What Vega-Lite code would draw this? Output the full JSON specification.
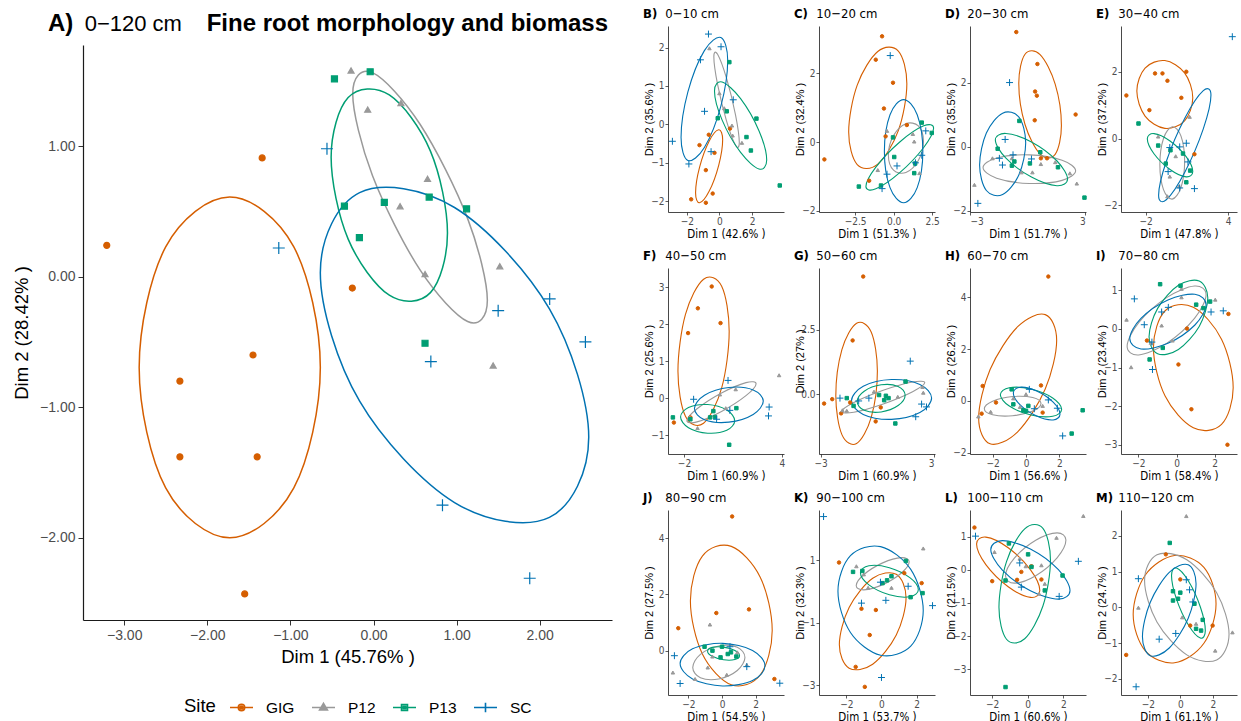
{
  "$schema": "https://vega.github.io/schema/vega-lite/v6.json",
  "padding": {"left": 12, "top": 8, "right": 2, "bottom": 2},
  "spacing": 31,
  "config": {
    "font": "Liberation Sans",
    "view": {"stroke": null},
    "range": {
      "category": ["#D55E00", "#999999", "#009E73", "#0072B2"],
      "symbol": ["circle", "triangle-up", "square", "M-2,0H2M0,-2V2"]
    },
    "axis": {
      "grid": false, "domainColor": "#1a1a1a", "tickColor": "#333333", "labelColor": "#4d4d4d",
      "titleColor": "#000000", "titleFontWeight": "normal",
      "labelFont": "'Liberation Sans Narrow', 'DejaVu Sans Condensed', sans-serif",
      "titleFont": "Liberation Sans", "labelFontSize": 10, "titleFontSize": 11,
      "tickSize": 3, "labelPadding": 1, "titlePadding": 2, "domainWidth": 0.8, "tickWidth": 0.8
    },
    "axisX": {"titleFont": "'Liberation Sans Narrow', 'DejaVu Sans Condensed', sans-serif", "titleFontSize": 11.5},
    "axisY": {"minExtent": 13, "maxExtent": 13, "titlePadding": 1},
    "title": {
      "anchor": "start", "frame": "bounds", "color": "#000000", "subtitleColor": "#000000",
      "font": "'Liberation Sans Narrow', 'DejaVu Sans Condensed', sans-serif",
      "subtitleFont": "'Liberation Sans Narrow', 'DejaVu Sans Condensed', sans-serif",
      "fontSize": 13, "fontWeight": "bold", "subtitleFontSize": 13, "subtitleFontWeight": "normal",
      "subtitlePadding": -13, "offset": 5
    }
  },
  "datasets": {
    "pts": [
      {"p":"A","s":"GIG","x":-3.21,"y":0.24},{"p":"A","s":"GIG","x":-1.34,"y":0.91},{"p":"A","s":"GIG","x":-0.255,"y":-0.087},{"p":"A","s":"GIG","x":-1.45,"y":-0.6},{"p":"A","s":"GIG","x":-2.33,"y":-0.8},{"p":"A","s":"GIG","x":-2.33,"y":-1.38},{"p":"A","s":"GIG","x":-1.4,"y":-1.38},{"p":"A","s":"GIG","x":-1.55,"y":-2.43},
      {"p":"A","s":"P12","x":-0.27,"y":1.58},{"p":"A","s":"P12","x":-0.07,"y":1.28},{"p":"A","s":"P12","x":0.33,"y":1.33},{"p":"A","s":"P12","x":0.65,"y":0.75},{"p":"A","s":"P12","x":0.32,"y":0.54},{"p":"A","s":"P12","x":0.62,"y":0.02},{"p":"A","s":"P12","x":1.52,"y":0.08},{"p":"A","s":"P12","x":1.44,"y":-0.68},
      {"p":"A","s":"P13","x":-0.47,"y":1.515},{"p":"A","s":"P13","x":-0.04,"y":1.57},{"p":"A","s":"P13","x":-0.35,"y":0.54},{"p":"A","s":"P13","x":0.13,"y":0.57},{"p":"A","s":"P13","x":0.67,"y":0.61},{"p":"A","s":"P13","x":1.12,"y":0.52},{"p":"A","s":"P13","x":-0.17,"y":0.3},{"p":"A","s":"P13","x":0.62,"y":-0.51},
      {"p":"A","s":"SC","x":-0.56,"y":0.98},{"p":"A","s":"SC","x":-1.14,"y":0.22},{"p":"A","s":"SC","x":2.12,"y":-0.17},{"p":"A","s":"SC","x":1.5,"y":-0.26},{"p":"A","s":"SC","x":2.55,"y":-0.5},{"p":"A","s":"SC","x":0.69,"y":-0.65},{"p":"A","s":"SC","x":0.83,"y":-1.75},{"p":"A","s":"SC","x":1.88,"y":-2.31},

      {"p":"B","s":"GIG","x":-1.73,"y":-1.95},{"p":"B","s":"GIG","x":-0.83,"y":-2.04},{"p":"B","s":"GIG","x":-0.41,"y":-1.8},{"p":"B","s":"GIG","x":-0.83,"y":-1.19},{"p":"B","s":"GIG","x":-0.3,"y":-0.74},{"p":"B","s":"GIG","x":-1.22,"y":-0.54},{"p":"B","s":"GIG","x":-0.65,"y":-0.27},{"p":"B","s":"GIG","x":0.65,"y":-0.11},
      {"p":"B","s":"P12","x":-0.61,"y":1.98},{"p":"B","s":"P12","x":0,"y":0.81},{"p":"B","s":"P12","x":0.3,"y":0.42},{"p":"B","s":"P12","x":0.77,"y":-0.03},{"p":"B","s":"P12","x":0.81,"y":-0.29},{"p":"B","s":"P12","x":1.38,"y":-0.48},
      {"p":"B","s":"P13","x":0.61,"y":1.62},{"p":"B","s":"P13","x":-0.1,"y":0.16},{"p":"B","s":"P13","x":0.45,"y":0.34},{"p":"B","s":"P13","x":2.27,"y":0.15},{"p":"B","s":"P13","x":1.66,"y":-0.33},{"p":"B","s":"P13","x":1.93,"y":-0.68},{"p":"B","s":"P13","x":3.7,"y":-1.59},
      {"p":"B","s":"SC","x":-0.67,"y":2.35},{"p":"B","s":"SC","x":-1.16,"y":1.68},{"p":"B","s":"SC","x":0.1,"y":2.02},{"p":"B","s":"SC","x":0.85,"y":0.64},{"p":"B","s":"SC","x":-0.91,"y":0.34},{"p":"B","s":"SC","x":-2.88,"y":-0.44},{"p":"B","s":"SC","x":-1.87,"y":-1.03},{"p":"B","s":"SC","x":-0.51,"y":-0.71},

      {"p":"C","s":"GIG","x":-4.5,"y":-0.5},{"p":"C","s":"GIG","x":-0.75,"y":3.08},{"p":"C","s":"GIG","x":-1.16,"y":2.4},{"p":"C","s":"GIG","x":-0.04,"y":1.73},{"p":"C","s":"GIG","x":-0.63,"y":0.98},{"p":"C","s":"GIG","x":-0.52,"y":0.17},{"p":"C","s":"GIG","x":0.86,"y":0.5},{"p":"C","s":"GIG","x":-1.59,"y":-1.12},
      {"p":"C","s":"P12","x":-0.43,"y":0.33},{"p":"C","s":"P12","x":-1.03,"y":-0.81},{"p":"C","s":"P12","x":1.25,"y":0.24},{"p":"C","s":"P12","x":1.34,"y":0.02},{"p":"C","s":"P12","x":1.68,"y":-0.9},
      {"p":"C","s":"P13","x":-2.26,"y":-1.29},{"p":"C","s":"P13","x":-0.82,"y":-1.26},{"p":"C","s":"P13","x":-0.04,"y":0.14},{"p":"C","s":"P13","x":0.04,"y":-0.43},{"p":"C","s":"P13","x":1.34,"y":-0.9},{"p":"C","s":"P13","x":1.83,"y":0.57},{"p":"C","s":"P13","x":2.48,"y":0.27},{"p":"C","s":"P13","x":1.4,"y":-0.62},
      {"p":"C","s":"SC","x":-0.22,"y":2.52},{"p":"C","s":"SC","x":-0.43,"y":-0.93},{"p":"C","s":"SC","x":-0.75,"y":-1.35},{"p":"C","s":"SC","x":0.22,"y":-0.69},{"p":"C","s":"SC","x":1.42,"y":-0.6},{"p":"C","s":"SC","x":2.09,"y":0.33},{"p":"C","s":"SC","x":1.83,"y":-0.38},

      {"p":"D","s":"GIG","x":-0.59,"y":3.59},{"p":"D","s":"GIG","x":0.51,"y":2.59},{"p":"D","s":"GIG","x":0.39,"y":1.73},{"p":"D","s":"GIG","x":0.48,"y":1.6},{"p":"D","s":"GIG","x":0.37,"y":0.83},{"p":"D","s":"GIG","x":2.5,"y":1.01},{"p":"D","s":"GIG","x":1.01,"y":-0.36},{"p":"D","s":"GIG","x":0.69,"y":-0.36},
      {"p":"D","s":"P12","x":-2.77,"y":-1.19},{"p":"D","s":"P12","x":-1.83,"y":-0.36},{"p":"D","s":"P12","x":-0.82,"y":-0.36},{"p":"D","s":"P12","x":-0.32,"y":-0.8},{"p":"D","s":"P12","x":0.25,"y":-0.8},{"p":"D","s":"P12","x":0.69,"y":-0.54},{"p":"D","s":"P12","x":1.44,"y":-0.48},{"p":"D","s":"P12","x":2.2,"y":-0.83},{"p":"D","s":"P12","x":2.56,"y":-1.15},
      {"p":"D","s":"P13","x":-1.56,"y":-0.06},{"p":"D","s":"P13","x":-0.43,"y":0.81},{"p":"D","s":"P13","x":-0.82,"y":-0.59},{"p":"D","s":"P13","x":-0.69,"y":-0.46},{"p":"D","s":"P13","x":0.12,"y":-0.52},{"p":"D","s":"P13","x":0.66,"y":-0.17},{"p":"D","s":"P13","x":1.58,"y":-0.64},{"p":"D","s":"P13","x":2.96,"y":-1.59},
      {"p":"D","s":"SC","x":-0.94,"y":2.01},{"p":"D","s":"SC","x":-2.59,"y":-1.77},{"p":"D","s":"SC","x":-1.17,"y":0.23},{"p":"D","s":"SC","x":-1.31,"y":-0.57},{"p":"D","s":"SC","x":-0.76,"y":-0.25},{"p":"D","s":"SC","x":-1.47,"y":-0.36},{"p":"D","s":"SC","x":0.2,"y":-0.38},

      {"p":"E","s":"GIG","x":-3.39,"y":1.29},{"p":"E","s":"GIG","x":-1.72,"y":0.85},{"p":"E","s":"GIG","x":-1.31,"y":1.95},{"p":"E","s":"GIG","x":-0.77,"y":1.95},{"p":"E","s":"GIG","x":-0.41,"y":1.73},{"p":"E","s":"GIG","x":0.96,"y":2.0},{"p":"E","s":"GIG","x":0.6,"y":1.22},{"p":"E","s":"GIG","x":1.55,"y":-0.47},
      {"p":"E","s":"P12","x":-1.08,"y":0.06},{"p":"E","s":"P12","x":0.19,"y":-0.53},{"p":"E","s":"P12","x":-0.24,"y":-1.14},{"p":"E","s":"P12","x":-0.41,"y":-1.73},{"p":"E","s":"P12","x":1.2,"y":0.65},{"p":"E","s":"P12","x":0.43,"y":-1.43},
      {"p":"E","s":"P13","x":-2.51,"y":0.45},{"p":"E","s":"P13","x":-1.08,"y":-0.21},{"p":"E","s":"P13","x":-0.19,"y":-0.35},{"p":"E","s":"P13","x":-0.53,"y":-0.75},{"p":"E","s":"P13","x":0.72,"y":-0.45},{"p":"E","s":"P13","x":1.24,"y":-0.96},{"p":"E","s":"P13","x":0.96,"y":-1.31},
      {"p":"E","s":"SC","x":4.3,"y":3.05},{"p":"E","s":"SC","x":1.55,"y":-1.5},{"p":"E","s":"SC","x":0.48,"y":-0.25},{"p":"E","s":"SC","x":0.96,"y":-0.14},{"p":"E","s":"SC","x":-0.24,"y":-0.27},{"p":"E","s":"SC","x":1.08,"y":-0.7},{"p":"E","s":"SC","x":-0.36,"y":-0.99},{"p":"E","s":"SC","x":0.48,"y":-1.48},

      {"p":"F","s":"GIG","x":-0.3,"y":3.02},{"p":"F","s":"GIG","x":-1.15,"y":2.43},{"p":"F","s":"GIG","x":0.24,"y":2.03},{"p":"F","s":"GIG","x":-1.75,"y":1.76},{"p":"F","s":"GIG","x":-2.62,"y":-0.66},{"p":"F","s":"GIG","x":-1.61,"y":-0.52},
      {"p":"F","s":"P12","x":3.83,"y":0.62},{"p":"F","s":"P12","x":1.17,"y":0.24},{"p":"F","s":"P12","x":0.2,"y":0.1},{"p":"F","s":"P12","x":-1.17,"y":-0.81},{"p":"F","s":"P12","x":0.56,"y":-0.27},{"p":"F","s":"P12","x":-1.65,"y":-0.52},
      {"p":"F","s":"P13","x":-2.68,"y":-0.52},{"p":"F","s":"P13","x":-1.61,"y":-0.57},{"p":"F","s":"P13","x":-0.2,"y":-0.35},{"p":"F","s":"P13","x":-0.4,"y":-0.52},{"p":"F","s":"P13","x":-0.1,"y":-0.51},{"p":"F","s":"P13","x":0.77,"y":-1.26},{"p":"F","s":"P13","x":1.21,"y":-0.27},
      {"p":"F","s":"SC","x":-1.41,"y":-0.03},{"p":"F","s":"SC","x":0.7,"y":0.48},{"p":"F","s":"SC","x":3.22,"y":-0.24},{"p":"F","s":"SC","x":3.18,"y":-0.48},{"p":"F","s":"SC","x":0,"y":-0.57},{"p":"F","s":"SC","x":0.81,"y":-0.33},

      {"p":"G","s":"GIG","x":-0.75,"y":4.55},{"p":"G","s":"GIG","x":-1.31,"y":2.08},{"p":"G","s":"GIG","x":-2.82,"y":-0.36},{"p":"G","s":"GIG","x":-2.39,"y":-0.19},{"p":"G","s":"GIG","x":-1.92,"y":-0.74},{"p":"G","s":"GIG","x":-1.44,"y":-0.32},{"p":"G","s":"GIG","x":-0.09,"y":-1.05},{"p":"G","s":"GIG","x":0.18,"y":-0.51},
      {"p":"G","s":"P12","x":-1.85,"y":-0.62},{"p":"G","s":"P12","x":-1.62,"y":-0.64},{"p":"G","s":"P12","x":-0.18,"y":0.1},{"p":"G","s":"P12","x":1.08,"y":-0.1},{"p":"G","s":"P12","x":2.43,"y":0.06},{"p":"G","s":"P12","x":2.39,"y":0.28},{"p":"G","s":"P12","x":1.53,"y":0.51},
      {"p":"G","s":"P13","x":-1.62,"y":-0.15},{"p":"G","s":"P13","x":-1.26,"y":-0.45},{"p":"G","s":"P13","x":0.09,"y":-0.03},{"p":"G","s":"P13","x":0.45,"y":-0.06},{"p":"G","s":"P13","x":0.59,"y":-0.15},{"p":"G","s":"P13","x":0.36,"y":-0.23},{"p":"G","s":"P13","x":1.49,"y":0.49},{"p":"G","s":"P13","x":0.95,"y":-1.13},
      {"p":"G","s":"SC","x":-1.98,"y":-0.15},{"p":"G","s":"SC","x":-0.99,"y":-0.26},{"p":"G","s":"SC","x":-0.45,"y":-0.15},{"p":"G","s":"SC","x":1.74,"y":1.28},{"p":"G","s":"SC","x":2.03,"y":-0.87},{"p":"G","s":"SC","x":2.34,"y":-0.38},{"p":"G","s":"SC","x":2.6,"y":-0.49},

      {"p":"H","s":"GIG","x":1.34,"y":4.81},{"p":"H","s":"GIG","x":-2.6,"y":0.58},{"p":"H","s":"GIG","x":-2.66,"y":-0.49},{"p":"H","s":"GIG","x":-1.8,"y":-0.06},{"p":"H","s":"GIG","x":0.9,"y":0.6},{"p":"H","s":"GIG","x":1.0,"y":-0.45},
      {"p":"H","s":"P12","x":-2.86,"y":-0.6},{"p":"H","s":"P12","x":-2.12,"y":-0.42},{"p":"H","s":"P12","x":-0.76,"y":0.1},{"p":"H","s":"P12","x":-0.36,"y":-0.23},{"p":"H","s":"P12","x":0,"y":0.26},{"p":"H","s":"P12","x":1.0,"y":-0.19},
      {"p":"H","s":"P13","x":-0.86,"y":0.45},{"p":"H","s":"P13","x":-0.76,"y":-0.13},{"p":"H","s":"P13","x":-0.16,"y":-0.36},{"p":"H","s":"P13","x":0,"y":-0.38},{"p":"H","s":"P13","x":0.14,"y":-0.19},{"p":"H","s":"P13","x":3.4,"y":-0.36},{"p":"H","s":"P13","x":2.74,"y":-1.26},
      {"p":"H","s":"SC","x":0.2,"y":0.45},{"p":"H","s":"SC","x":1.34,"y":0.04},{"p":"H","s":"SC","x":1.88,"y":-0.28},{"p":"H","s":"SC","x":2.2,"y":-1.35},{"p":"H","s":"SC","x":0.5,"y":-0.3},

      {"p":"I","s":"GIG","x":2.72,"y":0.39},{"p":"I","s":"GIG","x":-1.55,"y":-0.3},{"p":"I","s":"GIG","x":0.55,"y":0.01},{"p":"I","s":"GIG","x":0.1,"y":-0.92},{"p":"I","s":"GIG","x":0.78,"y":-2.08},{"p":"I","s":"GIG","x":2.67,"y":-3.0},
      {"p":"I","s":"P12","x":-2.62,"y":0.24},{"p":"I","s":"P12","x":-2.38,"y":-0.99},{"p":"I","s":"P12","x":-0.78,"y":0.09},{"p":"I","s":"P12","x":-0.21,"y":-0.3},{"p":"I","s":"P12","x":0.26,"y":1.04},{"p":"I","s":"P12","x":0.26,"y":0.82},{"p":"I","s":"P12","x":2.03,"y":0.76},{"p":"I","s":"P12","x":-1.34,"y":-0.36},
      {"p":"I","s":"P13","x":-0.86,"y":1.16},{"p":"I","s":"P13","x":0.21,"y":1.12},{"p":"I","s":"P13","x":1.03,"y":0.63},{"p":"I","s":"P13","x":1.76,"y":0.71},{"p":"I","s":"P13","x":1.41,"y":0.54},{"p":"I","s":"P13","x":-1.41,"y":-0.79},{"p":"I","s":"P13","x":-0.72,"y":-0.49},
      {"p":"I","s":"SC","x":-2.21,"y":0.78},{"p":"I","s":"SC","x":-1.69,"y":0.11},{"p":"I","s":"SC","x":-1.26,"y":-1.05},{"p":"I","s":"SC","x":-1.29,"y":-0.34},{"p":"I","s":"SC","x":-0.78,"y":0.44},{"p":"I","s":"SC","x":-0.43,"y":0.56},{"p":"I","s":"SC","x":1.81,"y":0.44},{"p":"I","s":"SC","x":2.45,"y":0.47},

      {"p":"J","s":"GIG","x":0.6,"y":4.78},{"p":"J","s":"GIG","x":-2.6,"y":0.8},{"p":"J","s":"GIG","x":-0.34,"y":1.34},{"p":"J","s":"GIG","x":1.6,"y":1.47},{"p":"J","s":"GIG","x":3.11,"y":-1.01},
      {"p":"J","s":"P12","x":-2.92,"y":-0.78},{"p":"J","s":"P12","x":-1.6,"y":-1.01},{"p":"J","s":"P12","x":-0.72,"y":0.93},{"p":"J","s":"P12","x":-0.85,"y":-0.6},{"p":"J","s":"P12","x":0.28,"y":-0.86},{"p":"J","s":"P12","x":0.91,"y":-0.06},{"p":"J","s":"P12","x":1.47,"y":-0.51},{"p":"J","s":"P12","x":-0.57,"y":-0.21},
      {"p":"J","s":"P13","x":-1.04,"y":0.14},{"p":"J","s":"P13","x":-0.57,"y":0},{"p":"J","s":"P13","x":0,"y":0.14},{"p":"J","s":"P13","x":-0.09,"y":-0.24},{"p":"J","s":"P13","x":0.34,"y":-0.12},{"p":"J","s":"P13","x":0.85,"y":-0.21},{"p":"J","s":"P13","x":0.53,"y":-0.06},
      {"p":"J","s":"SC","x":-2.83,"y":-0.18},{"p":"J","s":"SC","x":-2.49,"y":-1.17},{"p":"J","s":"SC","x":3.43,"y":-1.16},{"p":"J","s":"SC","x":1.47,"y":-0.57},{"p":"J","s":"SC","x":0.47,"y":0.14},

      {"p":"K","s":"GIG","x":-2.42,"y":0.93},{"p":"K","s":"GIG","x":-1.14,"y":-0.55},{"p":"K","s":"GIG","x":-0.32,"y":-0.59},{"p":"K","s":"GIG","x":-0.67,"y":-1.39},{"p":"K","s":"GIG","x":-1.47,"y":-2.41},{"p":"K","s":"GIG","x":-0.95,"y":-3.05},{"p":"K","s":"GIG","x":2.29,"y":0.27},{"p":"K","s":"GIG","x":1.3,"y":0.59},
      {"p":"K","s":"P12","x":-1.43,"y":0.81},{"p":"K","s":"P12","x":-1.01,"y":0.55},{"p":"K","s":"P12","x":-0.76,"y":0.12},{"p":"K","s":"P12","x":0.57,"y":0.12},{"p":"K","s":"P12","x":2.38,"y":1.38},
      {"p":"K","s":"P13","x":-1.62,"y":0.63},{"p":"K","s":"P13","x":-1.09,"y":0.66},{"p":"K","s":"P13","x":0.06,"y":0.27},{"p":"K","s":"P13","x":0.32,"y":0.36},{"p":"K","s":"P13","x":0.57,"y":0.49},{"p":"K","s":"P13","x":1.39,"y":0.98},{"p":"K","s":"P13","x":1.66,"y":-0.18},{"p":"K","s":"P13","x":2.34,"y":-0.05},
      {"p":"K","s":"SC","x":-3.3,"y":2.4},{"p":"K","s":"SC","x":-1.14,"y":-0.37},{"p":"K","s":"SC","x":-0.06,"y":0.3},{"p":"K","s":"SC","x":0.25,"y":-0.28},{"p":"K","s":"SC","x":1.52,"y":0.17},{"p":"K","s":"SC","x":2.91,"y":-0.45},{"p":"K","s":"SC","x":0,"y":-2.75},

      {"p":"L","s":"GIG","x":-3.0,"y":1.28},{"p":"L","s":"GIG","x":-2.0,"y":-0.34},{"p":"L","s":"GIG","x":-0.6,"y":-0.3},{"p":"L","s":"GIG","x":-0.36,"y":-0.06},{"p":"L","s":"GIG","x":0.77,"y":-0.29},{"p":"L","s":"GIG","x":0.21,"y":0.11},
      {"p":"L","s":"P12","x":3.13,"y":1.63},{"p":"L","s":"P12","x":1.62,"y":0.97},{"p":"L","s":"P12","x":-1.87,"y":0.54},{"p":"L","s":"P12","x":-0.45,"y":0.34},{"p":"L","s":"P12","x":-0.11,"y":0.11},{"p":"L","s":"P12","x":0.77,"y":0.14},{"p":"L","s":"P12","x":0.96,"y":-0.42},{"p":"L","s":"P12","x":0.64,"y":-0.72},
      {"p":"L","s":"P13","x":-1.06,"y":0.8},{"p":"L","s":"P13","x":0.02,"y":0.47},{"p":"L","s":"P13","x":0.21,"y":0.09},{"p":"L","s":"P13","x":-1.25,"y":-0.32},{"p":"L","s":"P13","x":0.96,"y":-0.62},{"p":"L","s":"P13","x":1.96,"y":-0.17},{"p":"L","s":"P13","x":-1.25,"y":-3.54},
      {"p":"L","s":"SC","x":-2.94,"y":1.02},{"p":"L","s":"SC","x":2.85,"y":0.26},{"p":"L","s":"SC","x":-0.45,"y":0.21},{"p":"L","s":"SC","x":-0.36,"y":-0.52},{"p":"L","s":"SC","x":1.77,"y":-0.8},

      {"p":"M","s":"GIG","x":-3.33,"y":-1.33},{"p":"M","s":"GIG","x":-0.89,"y":1.48},{"p":"M","s":"GIG","x":0,"y":0.78},{"p":"M","s":"GIG","x":0.61,"y":-0.51},{"p":"M","s":"GIG","x":1.99,"y":-0.51},
      {"p":"M","s":"P12","x":0.37,"y":2.55},{"p":"M","s":"P12","x":-2.58,"y":-0.01},{"p":"M","s":"P12","x":0.12,"y":-0.28},{"p":"M","s":"P12","x":0.97,"y":-0.46},{"p":"M","s":"P12","x":2.15,"y":-1.21},{"p":"M","s":"P12","x":3.21,"y":-0.7},
      {"p":"M","s":"P13","x":-0.65,"y":1.8},{"p":"M","s":"P13","x":-0.45,"y":0.45},{"p":"M","s":"P13","x":0,"y":0.41},{"p":"M","s":"P13","x":-0.45,"y":0.19},{"p":"M","s":"P13","x":-0.14,"y":0.24},{"p":"M","s":"P13","x":0.87,"y":0.1},{"p":"M","s":"P13","x":0.97,"y":-0.6},{"p":"M","s":"P13","x":1.28,"y":-0.65},{"p":"M","s":"P13","x":1.38,"y":-0.35},
      {"p":"M","s":"SC","x":-2.58,"y":0.8},{"p":"M","s":"SC","x":-2.72,"y":-2.22},{"p":"M","s":"SC","x":-1.3,"y":-0.89},{"p":"M","s":"SC","x":-0.28,"y":-0.73},{"p":"M","s":"SC","x":0.37,"y":0.77},{"p":"M","s":"SC","x":0.57,"y":0.49},{"p":"M","s":"SC","x":0.77,"y":0.15}
    ],
    "ell": [
      {"p":"A","s":"GIG","i":0,"x":-0.64,"y":-0.695},{"p":"A","s":"GIG","i":1,"x":-0.959,"y":0.228},{"p":"A","s":"GIG","i":2,"x":-1.73,"y":0.61},{"p":"A","s":"GIG","i":3,"x":-2.501,"y":0.228},{"p":"A","s":"GIG","i":4,"x":-2.82,"y":-0.695},{"p":"A","s":"GIG","i":5,"x":-2.501,"y":-1.618},{"p":"A","s":"GIG","i":6,"x":-1.73,"y":-2.0},{"p":"A","s":"GIG","i":7,"x":-0.959,"y":-1.618},
      {"p":"A","s":"P12","i":0,"x":1.37,"y":-0.18},{"p":"A","s":"P12","i":1,"x":1.133,"y":0.445},{"p":"A","s":"P12","i":2,"x":0.56,"y":1.168},{"p":"A","s":"P12","i":3,"x":-0.013,"y":1.563},{"p":"A","s":"P12","i":4,"x":-0.25,"y":1.4},{"p":"A","s":"P12","i":5,"x":-0.013,"y":0.775},{"p":"A","s":"P12","i":6,"x":0.56,"y":0.052},{"p":"A","s":"P12","i":7,"x":1.133,"y":-0.343},
      {"p":"A","s":"P13","i":0,"x":0.89,"y":0.335},{"p":"A","s":"P13","i":1,"x":0.685,"y":0.962},{"p":"A","s":"P13","i":2,"x":0.19,"y":1.392},{"p":"A","s":"P13","i":3,"x":-0.305,"y":1.372},{"p":"A","s":"P13","i":4,"x":-0.51,"y":0.915},{"p":"A","s":"P13","i":5,"x":-0.305,"y":0.288},{"p":"A","s":"P13","i":6,"x":0.19,"y":-0.142},{"p":"A","s":"P13","i":7,"x":0.685,"y":-0.122},
      {"p":"A","s":"SC","i":0,"x":2.59,"y":-1.23},{"p":"A","s":"SC","i":1,"x":2.117,"y":-0.246},{"p":"A","s":"SC","i":2,"x":0.975,"y":0.53},{"p":"A","s":"SC","i":3,"x":-0.167,"y":0.644},{"p":"A","s":"SC","i":4,"x":-0.64,"y":0.03},{"p":"A","s":"SC","i":5,"x":-0.167,"y":-0.954},{"p":"A","s":"SC","i":6,"x":0.975,"y":-1.73},{"p":"A","s":"SC","i":7,"x":2.117,"y":-1.844},

      {"p":"B","s":"GIG","i":0,"x":0.2,"y":-0.4},{"p":"B","s":"GIG","i":1,"x":-0.043,"y":-0.14},{"p":"B","s":"GIG","i":2,"x":-0.63,"y":-0.437},{"p":"B","s":"GIG","i":3,"x":-1.217,"y":-1.116},{"p":"B","s":"GIG","i":4,"x":-1.46,"y":-1.78},{"p":"B","s":"GIG","i":5,"x":-1.217,"y":-2.04},{"p":"B","s":"GIG","i":6,"x":-0.63,"y":-1.743},{"p":"B","s":"GIG","i":7,"x":-0.043,"y":-1.064},
      {"p":"B","s":"P12","i":0,"x":1.22,"y":-0.48},{"p":"B","s":"P12","i":1,"x":0.991,"y":0.24},{"p":"B","s":"P12","i":2,"x":0.44,"y":1.195},{"p":"B","s":"P12","i":3,"x":-0.111,"y":1.824},{"p":"B","s":"P12","i":4,"x":-0.34,"y":1.76},{"p":"B","s":"P12","i":5,"x":-0.111,"y":1.04},{"p":"B","s":"P12","i":6,"x":0.44,"y":0.085},{"p":"B","s":"P12","i":7,"x":0.991,"y":-0.544},
      {"p":"B","s":"P13","i":0,"x":2.9,"y":-0.93},{"p":"B","s":"P13","i":1,"x":2.431,"y":-0.171},{"p":"B","s":"P13","i":2,"x":1.3,"y":0.67},{"p":"B","s":"P13","i":3,"x":0.169,"y":1.101},{"p":"B","s":"P13","i":4,"x":-0.3,"y":0.87},{"p":"B","s":"P13","i":5,"x":0.169,"y":0.111},{"p":"B","s":"P13","i":6,"x":1.3,"y":-0.73},{"p":"B","s":"P13","i":7,"x":2.431,"y":-1.161},
      {"p":"B","s":"SC","i":0,"x":0.51,"y":1.66},{"p":"B","s":"SC","i":1,"x":0.091,"y":2.258},{"p":"B","s":"SC","i":2,"x":-0.92,"y":1.92},{"p":"B","s":"SC","i":3,"x":-1.931,"y":0.844},{"p":"B","s":"SC","i":4,"x":-2.35,"y":-0.34},{"p":"B","s":"SC","i":5,"x":-1.931,"y":-0.938},{"p":"B","s":"SC","i":6,"x":-0.92,"y":-0.6},{"p":"B","s":"SC","i":7,"x":0.091,"y":0.476},

      {"p":"C","s":"GIG","i":0,"x":0.86,"y":1.7},{"p":"C","s":"GIG","i":1,"x":0.306,"y":2.652},{"p":"C","s":"GIG","i":2,"x":-1.03,"y":2.637},{"p":"C","s":"GIG","i":3,"x":-2.366,"y":1.662},{"p":"C","s":"GIG","i":4,"x":-2.92,"y":0.3},{"p":"C","s":"GIG","i":5,"x":-2.366,"y":-0.652},{"p":"C","s":"GIG","i":6,"x":-1.03,"y":-0.637},{"p":"C","s":"GIG","i":7,"x":0.306,"y":0.338},
      {"p":"C","s":"P12","i":0,"x":1.94,"y":0.03},{"p":"C","s":"P12","i":1,"x":1.606,"y":0.473},{"p":"C","s":"P12","i":2,"x":0.8,"y":0.54},{"p":"C","s":"P12","i":3,"x":-0.006,"y":0.191},{"p":"C","s":"P12","i":4,"x":-0.34,"y":-0.37},{"p":"C","s":"P12","i":5,"x":-0.006,"y":-0.813},{"p":"C","s":"P12","i":6,"x":0.8,"y":-0.88},{"p":"C","s":"P12","i":7,"x":1.606,"y":-0.531},
      {"p":"C","s":"P13","i":0,"x":2.6,"y":0.41},{"p":"C","s":"P13","i":1,"x":1.955,"y":0.476},{"p":"C","s":"P13","i":2,"x":0.4,"y":0.006},{"p":"C","s":"P13","i":3,"x":-1.155,"y":-0.726},{"p":"C","s":"P13","i":4,"x":-1.8,"y":-1.29},{"p":"C","s":"P13","i":5,"x":-1.155,"y":-1.356},{"p":"C","s":"P13","i":6,"x":0.4,"y":-0.886},{"p":"C","s":"P13","i":7,"x":1.955,"y":-0.154},
      {"p":"C","s":"SC","i":0,"x":1.9,"y":-0.26},{"p":"C","s":"SC","i":1,"x":1.534,"y":0.8},{"p":"C","s":"SC","i":2,"x":0.65,"y":1.24},{"p":"C","s":"SC","i":3,"x":-0.234,"y":0.8},{"p":"C","s":"SC","i":4,"x":-0.6,"y":-0.26},{"p":"C","s":"SC","i":5,"x":-0.234,"y":-1.32},{"p":"C","s":"SC","i":6,"x":0.65,"y":-1.76},{"p":"C","s":"SC","i":7,"x":1.534,"y":-1.32},

      {"p":"D","s":"GIG","i":0,"x":1.76,"y":0.67},{"p":"D","s":"GIG","i":1,"x":1.435,"y":1.963},{"p":"D","s":"GIG","i":2,"x":0.65,"y":2.886},{"p":"D","s":"GIG","i":3,"x":-0.135,"y":2.897},{"p":"D","s":"GIG","i":4,"x":-0.46,"y":1.99},{"p":"D","s":"GIG","i":5,"x":-0.135,"y":0.697},{"p":"D","s":"GIG","i":6,"x":0.65,"y":-0.226},{"p":"D","s":"GIG","i":7,"x":1.435,"y":-0.237},
      {"p":"D","s":"P12","i":0,"x":2.5,"y":-0.75},{"p":"D","s":"P12","i":1,"x":1.794,"y":-0.419},{"p":"D","s":"P12","i":2,"x":0.09,"y":-0.253},{"p":"D","s":"P12","i":3,"x":-1.614,"y":-0.349},{"p":"D","s":"P12","i":4,"x":-2.32,"y":-0.65},{"p":"D","s":"P12","i":5,"x":-1.614,"y":-0.981},{"p":"D","s":"P12","i":6,"x":0.09,"y":-1.147},{"p":"D","s":"P12","i":7,"x":1.794,"y":-1.051},
      {"p":"D","s":"P13","i":0,"x":2.08,"y":-1.01},{"p":"D","s":"P13","i":1,"x":1.529,"y":-0.444},{"p":"D","s":"P13","i":2,"x":0.2,"y":0.148},{"p":"D","s":"P13","i":3,"x":-1.129,"y":0.418},{"p":"D","s":"P13","i":4,"x":-1.68,"y":0.21},{"p":"D","s":"P13","i":5,"x":-1.129,"y":-0.356},{"p":"D","s":"P13","i":6,"x":0.2,"y":-0.948},{"p":"D","s":"P13","i":7,"x":1.529,"y":-1.218},
      {"p":"D","s":"SC","i":0,"x":-0.1,"y":0.13},{"p":"D","s":"SC","i":1,"x":-0.452,"y":0.927},{"p":"D","s":"SC","i":2,"x":-1.3,"y":1.053},{"p":"D","s":"SC","i":3,"x":-2.148,"y":0.433},{"p":"D","s":"SC","i":4,"x":-2.5,"y":-0.57},{"p":"D","s":"SC","i":5,"x":-2.148,"y":-1.367},{"p":"D","s":"SC","i":6,"x":-1.3,"y":-1.493},{"p":"D","s":"SC","i":7,"x":-0.452,"y":-0.873},

      {"p":"E","s":"GIG","i":0,"x":1.43,"y":1.22},{"p":"E","s":"GIG","i":1,"x":0.835,"y":1.967},{"p":"E","s":"GIG","i":2,"x":-0.6,"y":2.335},{"p":"E","s":"GIG","i":3,"x":-2.035,"y":2.109},{"p":"E","s":"GIG","i":4,"x":-2.63,"y":1.42},{"p":"E","s":"GIG","i":5,"x":-2.035,"y":0.673},{"p":"E","s":"GIG","i":6,"x":-0.6,"y":0.305},{"p":"E","s":"GIG","i":7,"x":0.835,"y":0.531},
      {"p":"E","s":"P12","i":0,"x":0.84,"y":-0.68},{"p":"E","s":"P12","i":1,"x":0.576,"y":0.071},{"p":"E","s":"P12","i":2,"x":-0.06,"y":0.354},{"p":"E","s":"P12","i":3,"x":-0.696,"y":0.001},{"p":"E","s":"P12","i":4,"x":-0.96,"y":-0.78},{"p":"E","s":"P12","i":5,"x":-0.696,"y":-1.531},{"p":"E","s":"P12","i":6,"x":-0.06,"y":-1.814},{"p":"E","s":"P12","i":7,"x":0.576,"y":-1.461},
      {"p":"E","s":"P13","i":0,"x":1.43,"y":-0.99},{"p":"E","s":"P13","i":1,"x":0.947,"y":-0.544},{"p":"E","s":"P13","i":2,"x":-0.22,"y":-0.073},{"p":"E","s":"P13","i":3,"x":-1.387,"y":0.148},{"p":"E","s":"P13","i":4,"x":-1.87,"y":-0.01},{"p":"E","s":"P13","i":5,"x":-1.387,"y":-0.456},{"p":"E","s":"P13","i":6,"x":-0.22,"y":-0.927},{"p":"E","s":"P13","i":7,"x":0.947,"y":-1.148},
      {"p":"E","s":"SC","i":0,"x":2.75,"y":1.3},{"p":"E","s":"SC","i":1,"x":2.193,"y":1.434},{"p":"E","s":"SC","i":2,"x":0.85,"y":0.61},{"p":"E","s":"SC","i":3,"x":-0.493,"y":-0.688},{"p":"E","s":"SC","i":4,"x":-1.05,"y":-1.7},{"p":"E","s":"SC","i":5,"x":-0.493,"y":-1.834},{"p":"E","s":"SC","i":6,"x":0.85,"y":-1.01},{"p":"E","s":"SC","i":7,"x":2.193,"y":0.288},

      {"p":"F","s":"GIG","i":0,"x":0.77,"y":1.81},{"p":"F","s":"GIG","i":1,"x":0.31,"y":3.028},{"p":"F","s":"GIG","i":2,"x":-0.8,"y":3.217},{"p":"F","s":"GIG","i":3,"x":-1.91,"y":2.264},{"p":"F","s":"GIG","i":4,"x":-2.37,"y":0.73},{"p":"F","s":"GIG","i":5,"x":-1.91,"y":-0.488},{"p":"F","s":"GIG","i":6,"x":-0.8,"y":-0.677},{"p":"F","s":"GIG","i":7,"x":0.31,"y":0.276},
      {"p":"F","s":"P12","i":0,"x":2.42,"y":0.39},{"p":"F","s":"P12","i":1,"x":1.799,"y":0.421},{"p":"F","s":"P12","i":2,"x":0.3,"y":0.14},{"p":"F","s":"P12","i":3,"x":-1.199,"y":-0.287},{"p":"F","s":"P12","i":4,"x":-1.82,"y":-0.61},{"p":"F","s":"P12","i":5,"x":-1.199,"y":-0.641},{"p":"F","s":"P12","i":6,"x":0.3,"y":-0.36},{"p":"F","s":"P12","i":7,"x":1.799,"y":0.067},
      {"p":"F","s":"P13","i":0,"x":1.11,"y":-0.61},{"p":"F","s":"P13","i":1,"x":0.624,"y":-0.321},{"p":"F","s":"P13","i":2,"x":-0.55,"y":-0.173},{"p":"F","s":"P13","i":3,"x":-1.724,"y":-0.251},{"p":"F","s":"P13","i":4,"x":-2.21,"y":-0.51},{"p":"F","s":"P13","i":5,"x":-1.724,"y":-0.799},{"p":"F","s":"P13","i":6,"x":-0.55,"y":-0.947},{"p":"F","s":"P13","i":7,"x":0.624,"y":-0.869},
      {"p":"F","s":"SC","i":0,"x":2.86,"y":-0.08},{"p":"F","s":"SC","i":1,"x":2.242,"y":0.223},{"p":"F","s":"SC","i":2,"x":0.75,"y":0.289},{"p":"F","s":"SC","i":3,"x":-0.742,"y":0.081},{"p":"F","s":"SC","i":4,"x":-1.36,"y":-0.28},{"p":"F","s":"SC","i":5,"x":-0.742,"y":-0.583},{"p":"F","s":"SC","i":6,"x":0.75,"y":-0.649},{"p":"F","s":"SC","i":7,"x":2.242,"y":-0.441},

      {"p":"G","s":"GIG","i":0,"x":0.0,"y":0.9},{"p":"G","s":"GIG","i":1,"x":-0.322,"y":2.4},{"p":"G","s":"GIG","i":2,"x":-1.1,"y":2.741},{"p":"G","s":"GIG","i":3,"x":-1.878,"y":1.722},{"p":"G","s":"GIG","i":4,"x":-2.2,"y":-0.06},{"p":"G","s":"GIG","i":5,"x":-1.878,"y":-1.56},{"p":"G","s":"GIG","i":6,"x":-1.1,"y":-1.901},{"p":"G","s":"GIG","i":7,"x":-0.322,"y":-0.882},
      {"p":"G","s":"P12","i":0,"x":2.51,"y":0.45},{"p":"G","s":"P12","i":1,"x":1.865,"y":0.474},{"p":"G","s":"P12","i":2,"x":0.31,"y":0.156},{"p":"G","s":"P12","i":3,"x":-1.245,"y":-0.318},{"p":"G","s":"P12","i":4,"x":-1.89,"y":-0.67},{"p":"G","s":"P12","i":5,"x":-1.245,"y":-0.694},{"p":"G","s":"P12","i":6,"x":0.31,"y":-0.376},{"p":"G","s":"P12","i":7,"x":1.865,"y":0.098},
      {"p":"G","s":"P13","i":0,"x":1.47,"y":-0.03},{"p":"G","s":"P13","i":1,"x":1.098,"y":0.302},{"p":"G","s":"P13","i":2,"x":0.2,"y":0.364},{"p":"G","s":"P13","i":3,"x":-0.698,"y":0.118},{"p":"G","s":"P13","i":4,"x":-1.07,"y":-0.29},{"p":"G","s":"P13","i":5,"x":-0.698,"y":-0.622},{"p":"G","s":"P13","i":6,"x":0.2,"y":-0.684},{"p":"G","s":"P13","i":7,"x":1.098,"y":-0.438},
      {"p":"G","s":"SC","i":0,"x":2.87,"y":-0.15},{"p":"G","s":"SC","i":1,"x":2.249,"y":0.379},{"p":"G","s":"SC","i":2,"x":0.75,"y":0.57},{"p":"G","s":"SC","i":3,"x":-0.749,"y":0.309},{"p":"G","s":"SC","i":4,"x":-1.37,"y":-0.25},{"p":"G","s":"SC","i":5,"x":-0.749,"y":-0.779},{"p":"G","s":"SC","i":6,"x":0.75,"y":-0.97},{"p":"G","s":"SC","i":7,"x":2.249,"y":-0.709},

      {"p":"H","s":"GIG","i":0,"x":1.84,"y":2.34},{"p":"H","s":"GIG","i":1,"x":1.154,"y":3.337},{"p":"H","s":"GIG","i":2,"x":-0.5,"y":2.871},{"p":"H","s":"GIG","i":3,"x":-2.154,"y":1.215},{"p":"H","s":"GIG","i":4,"x":-2.84,"y":-0.66},{"p":"H","s":"GIG","i":5,"x":-2.154,"y":-1.657},{"p":"H","s":"GIG","i":6,"x":-0.5,"y":-1.191},{"p":"H","s":"GIG","i":7,"x":1.154,"y":0.465},
      {"p":"H","s":"P12","i":0,"x":0.9,"y":-0.1},{"p":"H","s":"P12","i":1,"x":0.402,"y":0.133},{"p":"H","s":"P12","i":2,"x":-0.8,"y":0.17},{"p":"H","s":"P12","i":3,"x":-2.002,"y":-0.009},{"p":"H","s":"P12","i":4,"x":-2.5,"y":-0.3},{"p":"H","s":"P12","i":5,"x":-2.002,"y":-0.533},{"p":"H","s":"P12","i":6,"x":-0.8,"y":-0.57},{"p":"H","s":"P12","i":7,"x":0.402,"y":-0.391},
      {"p":"H","s":"P13","i":0,"x":2.14,"y":-0.32},{"p":"H","s":"P13","i":1,"x":1.601,"y":0.117},{"p":"H","s":"P13","i":2,"x":0.3,"y":0.462},{"p":"H","s":"P13","i":3,"x":-1.001,"y":0.513},{"p":"H","s":"P13","i":4,"x":-1.54,"y":0.24},{"p":"H","s":"P13","i":5,"x":-1.001,"y":-0.197},{"p":"H","s":"P13","i":6,"x":0.3,"y":-0.542},{"p":"H","s":"P13","i":7,"x":1.601,"y":-0.593},
      {"p":"H","s":"SC","i":0,"x":2.04,"y":-0.51},{"p":"H","s":"SC","i":1,"x":1.63,"y":-0.047},{"p":"H","s":"SC","i":2,"x":0.64,"y":0.385},{"p":"H","s":"SC","i":3,"x":-0.35,"y":0.533},{"p":"H","s":"SC","i":4,"x":-0.76,"y":0.31},{"p":"H","s":"SC","i":5,"x":-0.35,"y":-0.153},{"p":"H","s":"SC","i":6,"x":0.64,"y":-0.585},{"p":"H","s":"SC","i":7,"x":1.63,"y":-0.733},

      {"p":"I","s":"GIG","i":0,"x":2.97,"y":-1.52},{"p":"I","s":"GIG","i":1,"x":2.358,"y":-0.264},{"p":"I","s":"GIG","i":2,"x":0.88,"y":0.561},{"p":"I","s":"GIG","i":3,"x":-0.598,"y":0.472},{"p":"I","s":"GIG","i":4,"x":-1.21,"y":-0.48},{"p":"I","s":"GIG","i":5,"x":-0.598,"y":-1.736},{"p":"I","s":"GIG","i":6,"x":0.88,"y":-2.561},{"p":"I","s":"GIG","i":7,"x":2.358,"y":-2.472},
      {"p":"I","s":"P12","i":0,"x":1.55,"y":0.89},{"p":"I","s":"P12","i":1,"x":0.943,"y":1.113},{"p":"I","s":"P12","i":2,"x":-0.52,"y":0.813},{"p":"I","s":"P12","i":3,"x":-1.983,"y":0.165},{"p":"I","s":"P12","i":4,"x":-2.59,"y":-0.45},{"p":"I","s":"P12","i":5,"x":-1.983,"y":-0.673},{"p":"I","s":"P12","i":6,"x":-0.52,"y":-0.373},{"p":"I","s":"P12","i":7,"x":0.943,"y":0.275},
      {"p":"I","s":"P13","i":0,"x":1.64,"y":0.8},{"p":"I","s":"P13","i":1,"x":1.189,"y":1.242},{"p":"I","s":"P13","i":2,"x":0.1,"y":1.131},{"p":"I","s":"P13","i":3,"x":-0.989,"y":0.534},{"p":"I","s":"P13","i":4,"x":-1.44,"y":-0.2},{"p":"I","s":"P13","i":5,"x":-0.989,"y":-0.642},{"p":"I","s":"P13","i":6,"x":0.1,"y":-0.531},{"p":"I","s":"P13","i":7,"x":1.189,"y":0.066},
      {"p":"I","s":"SC","i":0,"x":1.55,"y":0.63},{"p":"I","s":"SC","i":1,"x":0.964,"y":0.899},{"p":"I","s":"SC","i":2,"x":-0.45,"y":0.753},{"p":"I","s":"SC","i":3,"x":-1.864,"y":0.277},{"p":"I","s":"SC","i":4,"x":-2.45,"y":-0.25},{"p":"I","s":"SC","i":5,"x":-1.864,"y":-0.519},{"p":"I","s":"SC","i":6,"x":-0.45,"y":-0.373},{"p":"I","s":"SC","i":7,"x":0.964,"y":0.103},

      {"p":"J","s":"GIG","i":0,"x":2.98,"y":0.72},{"p":"J","s":"GIG","i":1,"x":2.268,"y":2.617},{"p":"J","s":"GIG","i":2,"x":0.55,"y":3.714},{"p":"J","s":"GIG","i":3,"x":-1.168,"y":3.367},{"p":"J","s":"GIG","i":4,"x":-1.88,"y":1.78},{"p":"J","s":"GIG","i":5,"x":-1.168,"y":-0.117},{"p":"J","s":"GIG","i":6,"x":0.55,"y":-1.214},{"p":"J","s":"GIG","i":7,"x":2.268,"y":-0.867},
      {"p":"J","s":"P12","i":0,"x":1.36,"y":-0.24},{"p":"J","s":"P12","i":1,"x":0.906,"y":0.123},{"p":"J","s":"P12","i":2,"x":-0.19,"y":0.168},{"p":"J","s":"P12","i":3,"x":-1.286,"y":-0.131},{"p":"J","s":"P12","i":4,"x":-1.74,"y":-0.6},{"p":"J","s":"P12","i":5,"x":-1.286,"y":-0.963},{"p":"J","s":"P12","i":6,"x":-0.19,"y":-1.008},{"p":"J","s":"P12","i":7,"x":0.906,"y":-0.709},
      {"p":"J","s":"P13","i":0,"x":1.04,"y":-0.18},{"p":"J","s":"P13","i":1,"x":0.762,"y":0.003},{"p":"J","s":"P13","i":2,"x":0.09,"y":0.126},{"p":"J","s":"P13","i":3,"x":-0.582,"y":0.117},{"p":"J","s":"P13","i":4,"x":-0.86,"y":-0.02},{"p":"J","s":"P13","i":5,"x":-0.582,"y":-0.203},{"p":"J","s":"P13","i":6,"x":0.09,"y":-0.326},{"p":"J","s":"P13","i":7,"x":0.762,"y":-0.317},
      {"p":"J","s":"SC","i":0,"x":2.55,"y":-0.54},{"p":"J","s":"SC","i":1,"x":1.812,"y":0.009},{"p":"J","s":"SC","i":2,"x":0.03,"y":0.26},{"p":"J","s":"SC","i":3,"x":-1.752,"y":0.065},{"p":"J","s":"SC","i":4,"x":-2.49,"y":-0.46},{"p":"J","s":"SC","i":5,"x":-1.752,"y":-1.009},{"p":"J","s":"SC","i":6,"x":0.03,"y":-1.26},{"p":"J","s":"SC","i":7,"x":1.812,"y":-1.065},

      {"p":"K","s":"GIG","i":0,"x":1.4,"y":-0.2},{"p":"K","s":"GIG","i":1,"x":0.843,"y":0.551},{"p":"K","s":"GIG","i":2,"x":-0.5,"y":0.424},{"p":"K","s":"GIG","i":3,"x":-1.843,"y":-0.509},{"p":"K","s":"GIG","i":4,"x":-2.4,"y":-1.7},{"p":"K","s":"GIG","i":5,"x":-1.843,"y":-2.451},{"p":"K","s":"GIG","i":6,"x":-0.5,"y":-2.324},{"p":"K","s":"GIG","i":7,"x":0.843,"y":-1.391},
      {"p":"K","s":"P12","i":0,"x":1.58,"y":0.95},{"p":"K","s":"P12","i":1,"x":1.138,"y":1.085},{"p":"K","s":"P12","i":2,"x":0.07,"y":0.918},{"p":"K","s":"P12","i":3,"x":-0.998,"y":0.547},{"p":"K","s":"P12","i":4,"x":-1.44,"y":0.19},{"p":"K","s":"P12","i":5,"x":-0.998,"y":0.055},{"p":"K","s":"P12","i":6,"x":0.07,"y":0.222},{"p":"K","s":"P12","i":7,"x":1.138,"y":0.593},
      {"p":"K","s":"P13","i":0,"x":2.1,"y":0.06},{"p":"K","s":"P13","i":1,"x":1.617,"y":0.445},{"p":"K","s":"P13","i":2,"x":0.45,"y":0.763},{"p":"K","s":"P13","i":3,"x":-0.717,"y":0.827},{"p":"K","s":"P13","i":4,"x":-1.2,"y":0.6},{"p":"K","s":"P13","i":5,"x":-0.717,"y":0.215},{"p":"K","s":"P13","i":6,"x":0.45,"y":-0.103},{"p":"K","s":"P13","i":7,"x":1.617,"y":-0.167},
      {"p":"K","s":"SC","i":0,"x":2.38,"y":-0.61},{"p":"K","s":"SC","i":1,"x":1.668,"y":0.709},{"p":"K","s":"SC","i":2,"x":-0.05,"y":1.437},{"p":"K","s":"SC","i":3,"x":-1.768,"y":1.147},{"p":"K","s":"SC","i":4,"x":-2.48,"y":0.01},{"p":"K","s":"SC","i":5,"x":-1.768,"y":-1.309},{"p":"K","s":"SC","i":6,"x":-0.05,"y":-2.037},{"p":"K","s":"SC","i":7,"x":1.668,"y":-1.747},

      {"p":"L","s":"GIG","i":0,"x":0.68,"y":-0.62},{"p":"L","s":"GIG","i":1,"x":0.158,"y":0.001},{"p":"L","s":"GIG","i":2,"x":-1.1,"y":0.669},{"p":"L","s":"GIG","i":3,"x":-2.358,"y":0.991},{"p":"L","s":"GIG","i":4,"x":-2.88,"y":0.78},{"p":"L","s":"GIG","i":5,"x":-2.358,"y":0.159},{"p":"L","s":"GIG","i":6,"x":-1.1,"y":-0.509},{"p":"L","s":"GIG","i":7,"x":0.158,"y":-0.831},
      {"p":"L","s":"P12","i":0,"x":2.15,"y":0.9},{"p":"L","s":"P12","i":1,"x":1.652,"y":1.12},{"p":"L","s":"P12","i":2,"x":0.45,"y":0.895},{"p":"L","s":"P12","i":3,"x":-0.752,"y":0.356},{"p":"L","s":"P12","i":4,"x":-1.25,"y":-0.18},{"p":"L","s":"P12","i":5,"x":-0.752,"y":-0.4},{"p":"L","s":"P12","i":6,"x":0.45,"y":-0.175},{"p":"L","s":"P12","i":7,"x":1.652,"y":0.364},
      {"p":"L","s":"P13","i":0,"x":1.28,"y":0.29},{"p":"L","s":"P13","i":1,"x":0.855,"y":1.256},{"p":"L","s":"P13","i":2,"x":-0.17,"y":1.24},{"p":"L","s":"P13","i":3,"x":-1.195,"y":0.252},{"p":"L","s":"P13","i":4,"x":-1.62,"y":-1.13},{"p":"L","s":"P13","i":5,"x":-1.195,"y":-2.096},{"p":"L","s":"P13","i":6,"x":-0.17,"y":-2.08},{"p":"L","s":"P13","i":7,"x":0.855,"y":-1.092},
      {"p":"L","s":"SC","i":0,"x":2.38,"y":-0.62},{"p":"L","s":"SC","i":1,"x":1.727,"y":0.008},{"p":"L","s":"SC","i":2,"x":0.15,"y":0.631},{"p":"L","s":"SC","i":3,"x":-1.427,"y":0.884},{"p":"L","s":"SC","i":4,"x":-2.08,"y":0.62},{"p":"L","s":"SC","i":5,"x":-1.427,"y":-0.008},{"p":"L","s":"SC","i":6,"x":0.15,"y":-0.631},{"p":"L","s":"SC","i":7,"x":1.727,"y":-0.884},

      {"p":"M","s":"GIG","i":0,"x":2.2,"y":0.1},{"p":"M","s":"GIG","i":1,"x":1.453,"y":1.117},{"p":"M","s":"GIG","i":2,"x":-0.35,"y":1.45},{"p":"M","s":"GIG","i":3,"x":-2.153,"y":0.905},{"p":"M","s":"GIG","i":4,"x":-2.9,"y":-0.2},{"p":"M","s":"GIG","i":5,"x":-2.153,"y":-1.217},{"p":"M","s":"GIG","i":6,"x":-0.35,"y":-1.55},{"p":"M","s":"GIG","i":7,"x":1.453,"y":-1.005},
      {"p":"M","s":"P12","i":0,"x":3.0,"y":-0.75},{"p":"M","s":"P12","i":1,"x":2.238,"y":0.409},{"p":"M","s":"P12","i":2,"x":0.4,"y":1.328},{"p":"M","s":"P12","i":3,"x":-1.438,"y":1.469},{"p":"M","s":"P12","i":4,"x":-2.2,"y":0.75},{"p":"M","s":"P12","i":5,"x":-1.438,"y":-0.409},{"p":"M","s":"P12","i":6,"x":0.4,"y":-1.328},{"p":"M","s":"P12","i":7,"x":2.238,"y":-1.469},
      {"p":"M","s":"P13","i":0,"x":1.54,"y":-0.65},{"p":"M","s":"P13","i":1,"x":1.235,"y":0.01},{"p":"M","s":"P13","i":2,"x":0.5,"y":0.734},{"p":"M","s":"P13","i":3,"x":-0.235,"y":1.098},{"p":"M","s":"P13","i":4,"x":-0.54,"y":0.89},{"p":"M","s":"P13","i":5,"x":-0.235,"y":0.23},{"p":"M","s":"P13","i":6,"x":0.5,"y":-0.494},{"p":"M","s":"P13","i":7,"x":1.235,"y":-0.858},
      {"p":"M","s":"SC","i":0,"x":0.97,"y":0.66},{"p":"M","s":"SC","i":1,"x":0.487,"y":1.19},{"p":"M","s":"SC","i":2,"x":-0.68,"y":0.977},{"p":"M","s":"SC","i":3,"x":-1.847,"y":0.144},{"p":"M","s":"SC","i":4,"x":-2.33,"y":-0.82},{"p":"M","s":"SC","i":5,"x":-1.847,"y":-1.35},{"p":"M","s":"SC","i":6,"x":-0.68,"y":-1.137},{"p":"M","s":"SC","i":7,"x":0.487,"y":-0.304}
    ]
  },
  "hconcat": [
    {
      "bounds": "flush",
      "spacing": 18,
      "vconcat": [
        {"width": 529, "height": 1, "data": {"name": "pts"}, "transform": [{"filter": "false"}], "mark": "point", "encoding": {}},
        {
          "width": 529, "height": 575,
          "title": {
            "text": "A)\u00a0\u00a0\u00a0\u00a0\u00a0\u00a0\u00a0\u00a0\u00a0\u00a0\u00a0\u00a0\u00a0\u00a0\u00a0\u00a0\u00a0\u00a0\u00a0\u00a0Fine root morphology and biomass",
            "subtitle": "\u200b\u00a0\u00a0\u00a0\u00a0\u00a0\u00a00\u2212120 cm",
            "font": "Liberation Sans", "subtitleFont": "Liberation Sans",
            "fontSize": 24, "subtitleFontSize": 22, "subtitlePadding": -22,
            "frame": "group", "dx": -35, "dy": 4, "offset": 13
          },
          "resolve": {"scale": {"color": "independent", "shape": "independent", "stroke": "independent"}},
          "layer": [
            {
              "data": {"name": "ell"}, "transform": [{"filter": "datum.p === 'A'"}],
              "mark": {"type": "line", "interpolate": "cardinal-closed", "strokeWidth": 1.5},
              "encoding": {
                "x": {"field": "x", "type": "quantitative", "scale": {"domain": [-3.496, 2.87], "nice": false, "zero": false},
                      "axis": {"values": [-3, -2, -1, 0, 1, 2], "format": ".2f", "title": "Dim 1 (45.76% )", "labelFont": "Liberation Sans", "labelFontSize": 14, "titleFont": "Liberation Sans", "titleFontSize": 18.5, "tickSize": 5, "labelPadding": 3, "titlePadding": 5, "domainWidth": 1.2, "tickWidth": 1}},
                "y": {"field": "y", "type": "quantitative", "scale": {"domain": [-2.63, 1.775], "nice": false, "zero": false},
                      "axis": {"values": [-2, -1, 0, 1], "format": ".2f", "title": "Dim 2 (28.42% )", "labelFont": "Liberation Sans", "labelFontSize": 14, "titleFont": "Liberation Sans", "titleFontSize": 18.5, "tickSize": 5, "labelPadding": 3, "titlePadding": 8, "minExtent": 0, "maxExtent": 200, "domainWidth": 1.2, "tickWidth": 1}},
                "color": {"field": "s", "type": "nominal", "legend": null},
                "order": {"field": "i"}
              }
            },
            {
              "data": {"name": "pts"}, "transform": [{"filter": "datum.p === 'A'"}],
              "mark": {"type": "point", "filled": true, "size": 36, "opacity": 1, "strokeWidth": 1.2},
              "encoding": {
                "x": {"field": "x", "type": "quantitative"},
                "y": {"field": "y", "type": "quantitative"},
                "color": {"field": "s", "type": "nominal", "legend": null},
                "stroke": {"field": "s", "type": "nominal", "legend": null},
                "shape": {"field": "s", "type": "nominal", "legend": null}
              }
            },
            {
              "data": {"name": "pts"}, "transform": [{"filter": "datum.p === 'legend'"}],
              "mark": {"type": "point", "filled": false, "opacity": 1, "strokeWidth": 1.6},
              "encoding": {
                "x": {"field": "x", "type": "quantitative"},
                "y": {"field": "y", "type": "quantitative"},
                "color": {"field": "s", "type": "nominal",
                  "scale": {"domain": ["GIG", "P12", "P13", "SC"], "range": ["#D55E00", "#999999", "#009E73", "#0072B2"]},
                  "legend": {"title": "Site", "orient": "none", "legendX": 101, "legendY": 650, "direction": "horizontal", "titleOrient": "left",
                    "titleFont": "Liberation Sans", "titleFontSize": 18.5, "titleFontWeight": "normal", "titleColor": "#000000", "titlePadding": 13,
                    "labelFont": "Liberation Sans", "labelFontSize": 15.5, "labelColor": "#000000", "labelOffset": 12, "columnPadding": 13,
                    "symbolSize": 529, "symbolStrokeWidth": 1.6}},
                "shape": {"field": "s", "type": "nominal",
                  "scale": {"domain": ["GIG", "P12", "P13", "SC"], "range": [
                    "M-1,0H1M0.28,0A0.28,0.28,0,1,1,-0.28,0A0.28,0.28,0,1,1,0.28,0M0.13,0A0.13,0.13,0,1,1,-0.13,0A0.13,0.13,0,1,1,0.13,0",
                    "M-1,0H1M0,-0.36L0.34,0.22L-0.34,0.22ZM0,-0.14L0.14,0.1L-0.14,0.1Z",
                    "M-1,0H1M-0.26,-0.26H0.26V0.26H-0.26ZM-0.11,-0.11H0.11V0.11H-0.11Z",
                    "M-1,0H1M0,-0.42V0.42"]},
                  "legend": {"title": "Site", "orient": "none", "legendX": 101, "legendY": 650, "direction": "horizontal", "titleOrient": "left",
                    "titleFont": "Liberation Sans", "titleFontSize": 18.5, "titleFontWeight": "normal", "titleColor": "#000000", "titlePadding": 13,
                    "labelFont": "Liberation Sans", "labelFontSize": 15.5, "labelColor": "#000000", "labelOffset": 12, "columnPadding": 13,
                    "symbolSize": 529, "symbolStrokeWidth": 1.6}}
              }
            }
          ]
        }
      ]
    },
    {
      "columns": 4,
      "bounds": "flush",
      "spacing": {"row": 56, "column": 35},
      "concat": [
        {"width": 116, "height": 186, "title": {"text": "B)", "subtitle": "\u200b\u00a0\u00a0\u00a0\u00a0\u00a0\u00a00\u221210 cm"},
         "layer": [
          {"data": {"name": "ell"}, "transform": [{"filter": "datum.p === 'B'"}], "mark": {"type": "line", "interpolate": "cardinal-closed", "strokeWidth": 1.1},
           "encoding": {"x": {"field": "x", "type": "quantitative", "scale": {"domain": [-3.15, 3.96], "nice": false, "zero": false}, "axis": {"values": [-2, 0, 2], "format": "d", "title": "Dim 1 (42.6% )"}},
                        "y": {"field": "y", "type": "quantitative", "scale": {"domain": [-2.28, 2.56], "nice": false, "zero": false}, "axis": {"values": [-2, -1, 0, 1, 2], "format": "d", "title": "Dim 2 (35.6% )"}},
                        "color": {"field": "s", "type": "nominal", "legend": null}, "order": {"field": "i"}}},
          {"data": {"name": "pts"}, "transform": [{"filter": "datum.p === 'B'"}], "mark": {"type": "point", "filled": true, "size": 12, "opacity": 1, "strokeWidth": 1},
           "encoding": {"x": {"field": "x", "type": "quantitative"}, "y": {"field": "y", "type": "quantitative"},
                        "color": {"field": "s", "type": "nominal", "legend": null}, "stroke": {"field": "s", "type": "nominal", "legend": null}, "shape": {"field": "s", "type": "nominal", "legend": null}}}
         ]},
        {"width": 116, "height": 186, "title": {"text": "C)", "subtitle": "\u200b\u00a0\u00a0\u00a0\u00a0\u00a0\u00a010\u221220 cm"},
         "layer": [
          {"data": {"name": "ell"}, "transform": [{"filter": "datum.p === 'C'"}], "mark": {"type": "line", "interpolate": "cardinal-closed", "strokeWidth": 1.1},
           "encoding": {"x": {"field": "x", "type": "quantitative", "scale": {"domain": [-4.85, 2.69], "nice": false, "zero": false}, "axis": {"values": [-2.5, 0, 2.5], "format": ".1f", "title": "Dim 1 (51.3% )"}},
                        "y": {"field": "y", "type": "quantitative", "scale": {"domain": [-2.03, 3.38], "nice": false, "zero": false}, "axis": {"values": [-2, -1, 0, 1, 2, 3], "format": "d", "title": "Dim 2 (32.4% )"}},
                        "color": {"field": "s", "type": "nominal", "legend": null}, "order": {"field": "i"}}},
          {"data": {"name": "pts"}, "transform": [{"filter": "datum.p === 'C'"}], "mark": {"type": "point", "filled": true, "size": 12, "opacity": 1, "strokeWidth": 1},
           "encoding": {"x": {"field": "x", "type": "quantitative"}, "y": {"field": "y", "type": "quantitative"},
                        "color": {"field": "s", "type": "nominal", "legend": null}, "stroke": {"field": "s", "type": "nominal", "legend": null}, "shape": {"field": "s", "type": "nominal", "legend": null}}}
         ]},
        {"width": 116, "height": 186, "title": {"text": "D)", "subtitle": "\u200b\u00a0\u00a0\u00a0\u00a0\u00a0\u00a020\u221230 cm"},
         "layer": [
          {"data": {"name": "ell"}, "transform": [{"filter": "datum.p === 'D'"}], "mark": {"type": "line", "interpolate": "cardinal-closed", "strokeWidth": 1.1},
           "encoding": {"x": {"field": "x", "type": "quantitative", "scale": {"domain": [-3.0, 3.04], "nice": false, "zero": false}, "axis": {"values": [-3, -2, -1, 0, 1, 2, 3], "format": "d", "title": "Dim 1 (51.7% )"}},
                        "y": {"field": "y", "type": "quantitative", "scale": {"domain": [-2.04, 3.78], "nice": false, "zero": false}, "axis": {"values": [-2, -1, 0, 1, 2, 3], "format": "d", "title": "Dim 2 (35.5% )"}},
                        "color": {"field": "s", "type": "nominal", "legend": null}, "order": {"field": "i"}}},
          {"data": {"name": "pts"}, "transform": [{"filter": "datum.p === 'D'"}], "mark": {"type": "point", "filled": true, "size": 12, "opacity": 1, "strokeWidth": 1},
           "encoding": {"x": {"field": "x", "type": "quantitative"}, "y": {"field": "y", "type": "quantitative"},
                        "color": {"field": "s", "type": "nominal", "legend": null}, "stroke": {"field": "s", "type": "nominal", "legend": null}, "shape": {"field": "s", "type": "nominal", "legend": null}}}
         ]},
        {"width": 116, "height": 186, "title": {"text": "E)", "subtitle": "\u200b\u00a0\u00a0\u00a0\u00a0\u00a0\u00a030\u221240 cm"},
         "layer": [
          {"data": {"name": "ell"}, "transform": [{"filter": "datum.p === 'E'"}], "mark": {"type": "line", "interpolate": "cardinal-closed", "strokeWidth": 1.1},
           "encoding": {"x": {"field": "x", "type": "quantitative", "scale": {"domain": [-3.78, 4.64], "nice": false, "zero": false}, "axis": {"values": [-2, 0, 2, 4], "format": "d", "title": "Dim 1 (47.8% )"}},
                        "y": {"field": "y", "type": "quantitative", "scale": {"domain": [-2.2, 3.37], "nice": false, "zero": false}, "axis": {"values": [-2, -1, 0, 1, 2, 3], "format": "d", "title": "Dim 2 (37.2% )"}},
                        "color": {"field": "s", "type": "nominal", "legend": null}, "order": {"field": "i"}}},
          {"data": {"name": "pts"}, "transform": [{"filter": "datum.p === 'E'"}], "mark": {"type": "point", "filled": true, "size": 12, "opacity": 1, "strokeWidth": 1},
           "encoding": {"x": {"field": "x", "type": "quantitative"}, "y": {"field": "y", "type": "quantitative"},
                        "color": {"field": "s", "type": "nominal", "legend": null}, "stroke": {"field": "s", "type": "nominal", "legend": null}, "shape": {"field": "s", "type": "nominal", "legend": null}}}
         ]},
        {"width": 116, "height": 186, "title": {"text": "F)", "subtitle": "\u200b\u00a0\u00a0\u00a0\u00a0\u00a0\u00a040\u221250 cm"},
         "layer": [
          {"data": {"name": "ell"}, "transform": [{"filter": "datum.p === 'F'"}], "mark": {"type": "line", "interpolate": "cardinal-closed", "strokeWidth": 1.1},
           "encoding": {"x": {"field": "x", "type": "quantitative", "scale": {"domain": [-2.98, 4.13], "nice": false, "zero": false}, "axis": {"values": [-2, 0, 2, 4], "format": "d", "title": "Dim 1 (60.9% )"}},
                        "y": {"field": "y", "type": "quantitative", "scale": {"domain": [-1.51, 3.52], "nice": false, "zero": false}, "axis": {"values": [-1, 0, 1, 2, 3], "format": "d", "title": "Dim 2 (25.6% )"}},
                        "color": {"field": "s", "type": "nominal", "legend": null}, "order": {"field": "i"}}},
          {"data": {"name": "pts"}, "transform": [{"filter": "datum.p === 'F'"}], "mark": {"type": "point", "filled": true, "size": 12, "opacity": 1, "strokeWidth": 1},
           "encoding": {"x": {"field": "x", "type": "quantitative"}, "y": {"field": "y", "type": "quantitative"},
                        "color": {"field": "s", "type": "nominal", "legend": null}, "stroke": {"field": "s", "type": "nominal", "legend": null}, "shape": {"field": "s", "type": "nominal", "legend": null}}}
         ]},
        {"width": 116, "height": 186, "title": {"text": "G)", "subtitle": "\u200b\u00a0\u00a0\u00a0\u00a0\u00a0\u00a050\u221260 cm"},
         "layer": [
          {"data": {"name": "ell"}, "transform": [{"filter": "datum.p === 'G'"}], "mark": {"type": "line", "interpolate": "cardinal-closed", "strokeWidth": 1.1},
           "encoding": {"x": {"field": "x", "type": "quantitative", "scale": {"domain": [-3.09, 3.05], "nice": false, "zero": false}, "axis": {"values": [-3, -2, -1, 0, 1, 2, 3], "format": "d", "title": "Dim 1 (60.9% )"}},
                        "y": {"field": "y", "type": "quantitative", "scale": {"domain": [-2.31, 4.88], "nice": false, "zero": false}, "axis": {"values": [0, 2.5], "format": ".1f", "title": "Dim 2 (27% )"}},
                        "color": {"field": "s", "type": "nominal", "legend": null}, "order": {"field": "i"}}},
          {"data": {"name": "pts"}, "transform": [{"filter": "datum.p === 'G'"}], "mark": {"type": "point", "filled": true, "size": 12, "opacity": 1, "strokeWidth": 1},
           "encoding": {"x": {"field": "x", "type": "quantitative"}, "y": {"field": "y", "type": "quantitative"},
                        "color": {"field": "s", "type": "nominal", "legend": null}, "stroke": {"field": "s", "type": "nominal", "legend": null}, "shape": {"field": "s", "type": "nominal", "legend": null}}}
         ]},
        {"width": 116, "height": 186, "title": {"text": "H)", "subtitle": "\u200b\u00a0\u00a0\u00a0\u00a0\u00a0\u00a060\u221270 cm"},
         "layer": [
          {"data": {"name": "ell"}, "transform": [{"filter": "datum.p === 'H'"}], "mark": {"type": "line", "interpolate": "cardinal-closed", "strokeWidth": 1.1},
           "encoding": {"x": {"field": "x", "type": "quantitative", "scale": {"domain": [-3.36, 3.6], "nice": false, "zero": false}, "axis": {"values": [-2, 0, 2], "format": "d", "title": "Dim 1 (56.6% )"}},
                        "y": {"field": "y", "type": "quantitative", "scale": {"domain": [-2.05, 5.14], "nice": false, "zero": false}, "axis": {"values": [-2, 0, 2, 4], "format": "d", "title": "Dim 2 (26.2% )"}},
                        "color": {"field": "s", "type": "nominal", "legend": null}, "order": {"field": "i"}}},
          {"data": {"name": "pts"}, "transform": [{"filter": "datum.p === 'H'"}], "mark": {"type": "point", "filled": true, "size": 12, "opacity": 1, "strokeWidth": 1},
           "encoding": {"x": {"field": "x", "type": "quantitative"}, "y": {"field": "y", "type": "quantitative"},
                        "color": {"field": "s", "type": "nominal", "legend": null}, "stroke": {"field": "s", "type": "nominal", "legend": null}, "shape": {"field": "s", "type": "nominal", "legend": null}}}
         ]},
        {"width": 116, "height": 186, "title": {"text": "I)", "subtitle": "\u200b\u00a0\u00a0\u00a0\u00a0\u00a0\u00a070\u221280 cm"},
         "layer": [
          {"data": {"name": "ell"}, "transform": [{"filter": "datum.p === 'I'"}], "mark": {"type": "line", "interpolate": "cardinal-closed", "strokeWidth": 1.1},
           "encoding": {"x": {"field": "x", "type": "quantitative", "scale": {"domain": [-2.91, 3.17], "nice": false, "zero": false}, "axis": {"values": [-2, -1, 0, 1, 2, 3], "format": "d", "title": "Dim 1 (58.4% )"}},
                        "y": {"field": "y", "type": "quantitative", "scale": {"domain": [-3.24, 1.58], "nice": false, "zero": false}, "axis": {"values": [-3, -2, -1, 0, 1], "format": "d", "title": "Dim 2 (23.4% )"}},
                        "color": {"field": "s", "type": "nominal", "legend": null}, "order": {"field": "i"}}},
          {"data": {"name": "pts"}, "transform": [{"filter": "datum.p === 'I'"}], "mark": {"type": "point", "filled": true, "size": 12, "opacity": 1, "strokeWidth": 1},
           "encoding": {"x": {"field": "x", "type": "quantitative"}, "y": {"field": "y", "type": "quantitative"},
                        "color": {"field": "s", "type": "nominal", "legend": null}, "stroke": {"field": "s", "type": "nominal", "legend": null}, "shape": {"field": "s", "type": "nominal", "legend": null}}}
         ]},
        {"width": 116, "height": 185, "title": {"text": "J)", "subtitle": "\u200b\u00a0\u00a0\u00a0\u00a0\u00a0\u00a080\u221290 cm"},
         "layer": [
          {"data": {"name": "ell"}, "transform": [{"filter": "datum.p === 'J'"}], "mark": {"type": "line", "interpolate": "cardinal-closed", "strokeWidth": 1.1},
           "encoding": {"x": {"field": "x", "type": "quantitative", "scale": {"domain": [-3.21, 3.68], "nice": false, "zero": false}, "axis": {"values": [-2, 0, 2], "format": "d", "title": "Dim 1 (54.5% )"}},
                        "y": {"field": "y", "type": "quantitative", "scale": {"domain": [-1.58, 5.01], "nice": false, "zero": false}, "axis": {"values": [0, 2, 4], "format": "d", "title": "Dim 2 (27.5% )"}},
                        "color": {"field": "s", "type": "nominal", "legend": null}, "order": {"field": "i"}}},
          {"data": {"name": "pts"}, "transform": [{"filter": "datum.p === 'J'"}], "mark": {"type": "point", "filled": true, "size": 12, "opacity": 1, "strokeWidth": 1},
           "encoding": {"x": {"field": "x", "type": "quantitative"}, "y": {"field": "y", "type": "quantitative"},
                        "color": {"field": "s", "type": "nominal", "legend": null}, "stroke": {"field": "s", "type": "nominal", "legend": null}, "shape": {"field": "s", "type": "nominal", "legend": null}}}
         ]},
        {"width": 116, "height": 185, "title": {"text": "K)", "subtitle": "\u200b\u00a0\u00a0\u00a0\u00a0\u00a0\u00a090\u2212100 cm"},
         "layer": [
          {"data": {"name": "ell"}, "transform": [{"filter": "datum.p === 'K'"}], "mark": {"type": "line", "interpolate": "cardinal-closed", "strokeWidth": 1.1},
           "encoding": {"x": {"field": "x", "type": "quantitative", "scale": {"domain": [-3.56, 3.05], "nice": false, "zero": false}, "axis": {"values": [-2, 0, 2], "format": "d", "title": "Dim 1 (53.7% )"}},
                        "y": {"field": "y", "type": "quantitative", "scale": {"domain": [-3.31, 2.61], "nice": false, "zero": false}, "axis": {"values": [-3, -2, -1, 0, 1, 2], "format": "d", "title": "Dim 2 (32.3% )"}},
                        "color": {"field": "s", "type": "nominal", "legend": null}, "order": {"field": "i"}}},
          {"data": {"name": "pts"}, "transform": [{"filter": "datum.p === 'K'"}], "mark": {"type": "point", "filled": true, "size": 12, "opacity": 1, "strokeWidth": 1},
           "encoding": {"x": {"field": "x", "type": "quantitative"}, "y": {"field": "y", "type": "quantitative"},
                        "color": {"field": "s", "type": "nominal", "legend": null}, "stroke": {"field": "s", "type": "nominal", "legend": null}, "shape": {"field": "s", "type": "nominal", "legend": null}}}
         ]},
        {"width": 116, "height": 185, "title": {"text": "L)", "subtitle": "\u200b\u00a0\u00a0\u00a0\u00a0\u00a0\u00a0100\u2212110 cm"},
         "layer": [
          {"data": {"name": "ell"}, "transform": [{"filter": "datum.p === 'L'"}], "mark": {"type": "line", "interpolate": "cardinal-closed", "strokeWidth": 1.1},
           "encoding": {"x": {"field": "x", "type": "quantitative", "scale": {"domain": [-3.25, 3.28], "nice": false, "zero": false}, "axis": {"values": [-2, 0, 2], "format": "d", "title": "Dim 1 (60.6% )"}},
                        "y": {"field": "y", "type": "quantitative", "scale": {"domain": [-3.78, 1.81], "nice": false, "zero": false}, "axis": {"values": [-3, -2, -1, 0, 1], "format": "d", "title": "Dim 2 (21.5% )"}},
                        "color": {"field": "s", "type": "nominal", "legend": null}, "order": {"field": "i"}}},
          {"data": {"name": "pts"}, "transform": [{"filter": "datum.p === 'L'"}], "mark": {"type": "point", "filled": true, "size": 12, "opacity": 1, "strokeWidth": 1},
           "encoding": {"x": {"field": "x", "type": "quantitative"}, "y": {"field": "y", "type": "quantitative"},
                        "color": {"field": "s", "type": "nominal", "legend": null}, "stroke": {"field": "s", "type": "nominal", "legend": null}, "shape": {"field": "s", "type": "nominal", "legend": null}}}
         ]},
        {"width": 116, "height": 185, "title": {"text": "M)", "subtitle": "\u200b\u00a0\u00a0\u00a0\u00a0\u00a0\u00a0110\u2212120 cm"},
         "layer": [
          {"data": {"name": "ell"}, "transform": [{"filter": "datum.p === 'M'"}], "mark": {"type": "line", "interpolate": "cardinal-closed", "strokeWidth": 1.1},
           "encoding": {"x": {"field": "x", "type": "quantitative", "scale": {"domain": [-3.65, 3.49], "nice": false, "zero": false}, "axis": {"values": [-2, 0, 2], "format": "d", "title": "Dim 1 (61.1% )"}},
                        "y": {"field": "y", "type": "quantitative", "scale": {"domain": [-2.45, 2.72], "nice": false, "zero": false}, "axis": {"values": [-2, -1, 0, 1, 2], "format": "d", "title": "Dim 2 (24.7% )"}},
                        "color": {"field": "s", "type": "nominal", "legend": null}, "order": {"field": "i"}}},
          {"data": {"name": "pts"}, "transform": [{"filter": "datum.p === 'M'"}], "mark": {"type": "point", "filled": true, "size": 12, "opacity": 1, "strokeWidth": 1},
           "encoding": {"x": {"field": "x", "type": "quantitative"}, "y": {"field": "y", "type": "quantitative"},
                        "color": {"field": "s", "type": "nominal", "legend": null}, "stroke": {"field": "s", "type": "nominal", "legend": null}, "shape": {"field": "s", "type": "nominal", "legend": null}}}
         ]}
      ]
    }
  ]
}
